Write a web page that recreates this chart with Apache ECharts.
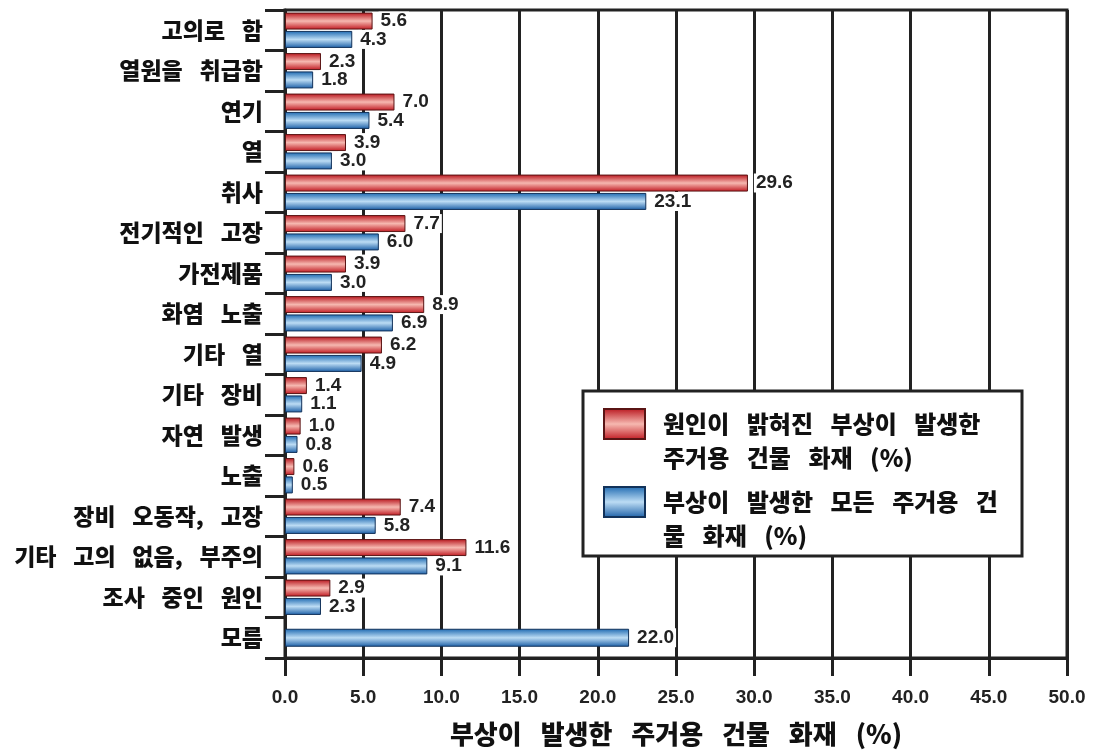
<!DOCTYPE html>
<html>
<head>
<meta charset="utf-8">
<script src="https://cdn.jsdelivr.net/npm/echarts@6/dist/echarts.min.js"></script>
<style>
  html, body { margin: 0; padding: 0; background: #fff; }
  #chart { width: 1093px; height: 752px; }
</style>
</head>
<body>
<div id="chart"></div>
<script>
// 화재 원인 범주 (위에서 아래로)
const categories = [
  '고의로 함', '열원을 취급함', '연기', '열', '취사', '전기적인 고장',
  '가전제품', '화염 노출', '기타 열', '기타 장비', '자연 발생', '노출',
  '장비 오동작, 고장', '기타 고의 없음, 부주의', '조사 중인 원인', '모름'
];

// 원인이 밝혀진 부상 발생 주거용 건물 화재 (%) — '모름'에는 값 없음
const knownCauseValues = [5.6, 2.3, 7.0, 3.9, 29.6, 7.7, 3.9, 8.9, 6.2, 1.4, 1.0, 0.6, 7.4, 11.6, 2.9, null];

// 부상이 발생한 모든 주거용 건물 화재 (%)
const allFireValues = [4.3, 1.8, 5.4, 3.0, 23.1, 6.0, 3.0, 6.9, 4.9, 1.1, 0.8, 0.5, 5.8, 9.1, 2.3, 22.0];

const xTicks = [0, 5, 10, 15, 20, 25, 30, 35, 40, 45, 50];

const nameKnown = '원인이 밝혀진 부상이 발생한\n주거용 건물 화재 (%)';
const nameAll = '부상이 발생한 모든 주거용 건\n물 화재 (%)';
const xTitle = '부상이 발생한 주거용 건물 화재 (%)';

// '모름'은 한 계열만 있으므로 별도의 축에서 가운데 정렬
const unknownIdx = categories.length - 1;
const allPaired = allFireValues.map((v, i) => (i === unknownIdx ? null : v));
const allCentered = allFireValues.map((v, i) => (i === unknownIdx ? v : null));

const latin = '"Liberation Sans", Arial, sans-serif';
const hangul = '"Noto Sans CJK KR", "Noto Sans", sans-serif';
const hangulWeight = 900;

// 한글 어절 사이를 넓게
const wide = s => s.replace(/ /g, '\u2002 ');

const redFill = new echarts.graphic.LinearGradient(0, 0, 0, 1, [
  { offset: 0, color: '#b8141c' },
  { offset: 0.5, color: '#f6b8b0' },
  { offset: 1, color: '#c01820' }
]);
const blueFill = new echarts.graphic.LinearGradient(0, 0, 0, 1, [
  { offset: 0, color: '#1c68b0' },
  { offset: 0.5, color: '#bcdcf4' },
  { offset: 1, color: '#1a5ea6' }
]);

const valueLabel = {
  show: true,
  position: 'right',
  distance: 6,
  formatter: p => p.value.toFixed(1),
  fontFamily: latin,
  fontWeight: 'bold',
  fontSize: 19,
  color: '#222',
  backgroundColor: '#fff',
  padding: [0, 2, 0, 2]
};

const yAxisBase = {
  type: 'category',
  data: categories,
  inverse: true,
  axisLine: { show: true, lineStyle: { color: '#222', width: 3 } },
  axisTick: { show: true, length: 20, lineStyle: { color: '#222', width: 3 } },
  axisLabel: {
    margin: 22,
    formatter: v => wide(v),
    fontFamily: hangul,
    fontWeight: hangulWeight,
    fontSize: 23,
    color: '#111'
  }
};

const chart = echarts.init(document.getElementById('chart'));
chart.setOption({
  animation: false,
  backgroundColor: '#fff',
  grid: {
    left: 285, right: 26, top: 10, bottom: 91,
    show: true, borderColor: '#222', borderWidth: 3, backgroundColor: 'transparent'
  },
  xAxis: {
    type: 'value',
    min: 0, max: 50, interval: 5,
    axisLine: { show: true, lineStyle: { color: '#222', width: 3 } },
    axisTick: { show: true, length: 18, lineStyle: { color: '#222', width: 3 } },
    splitLine: { show: true, lineStyle: { color: '#222', width: 3 } },
    axisLabel: {
      margin: 30,
      fontFamily: latin,
      fontWeight: 'bold',
      fontSize: 19,
      color: '#222',
      formatter: v => (xTicks.includes(v) ? v.toFixed(1) : '')
    },
    name: wide(xTitle),
    nameLocation: 'middle',
    nameGap: 63,
    nameTextStyle: {
      fontFamily: hangul,
      fontWeight: hangulWeight,
      fontSize: 26,
      color: '#111'
    }
  },
  yAxis: [
    yAxisBase,
    Object.assign({}, yAxisBase, { show: false })
  ],
  // 범례 테두리 상자
  graphic: [{
    type: 'rect',
    z: 3,
    shape: { x: 583, y: 391, width: 439, height: 165 },
    style: { fill: '#fff', stroke: '#222', lineWidth: 3 }
  }],
  legend: {
    data: [nameKnown, nameAll],
    z: 10,
    orient: 'vertical',
    left: 603,
    top: 408,
    padding: 0,
    itemGap: 16,
    itemWidth: 41,
    itemHeight: 30,
    icon: 'rect',
    formatter: name => '{t|' + wide(name) + '}',
    textStyle: {
      padding: [34, 0, 0, 13],
      rich: {
        t: {
          fontFamily: hangul,
          fontWeight: hangulWeight,
          fontSize: 24,
          lineHeight: 34,
          color: '#111'
        }
      }
    }
  },
  series: [
    {
      name: nameKnown,
      type: 'bar',
      yAxisIndex: 0,
      data: knownCauseValues,
      barWidth: 17,
      barGap: '8%',
      itemStyle: { color: redFill, borderColor: '#5a1414', borderWidth: 1 },
      label: valueLabel,
      z: 3
    },
    {
      name: nameAll,
      type: 'bar',
      yAxisIndex: 0,
      data: allPaired,
      barWidth: 17,
      itemStyle: { color: blueFill, borderColor: '#12325a', borderWidth: 1 },
      label: valueLabel,
      z: 3
    },
    {
      name: nameAll,
      type: 'bar',
      yAxisIndex: 1,
      data: allCentered,
      barWidth: 18,
      itemStyle: { color: blueFill, borderColor: '#12325a', borderWidth: 1 },
      label: valueLabel,
      z: 3
    }
  ]
});
</script>
</body>
</html>
